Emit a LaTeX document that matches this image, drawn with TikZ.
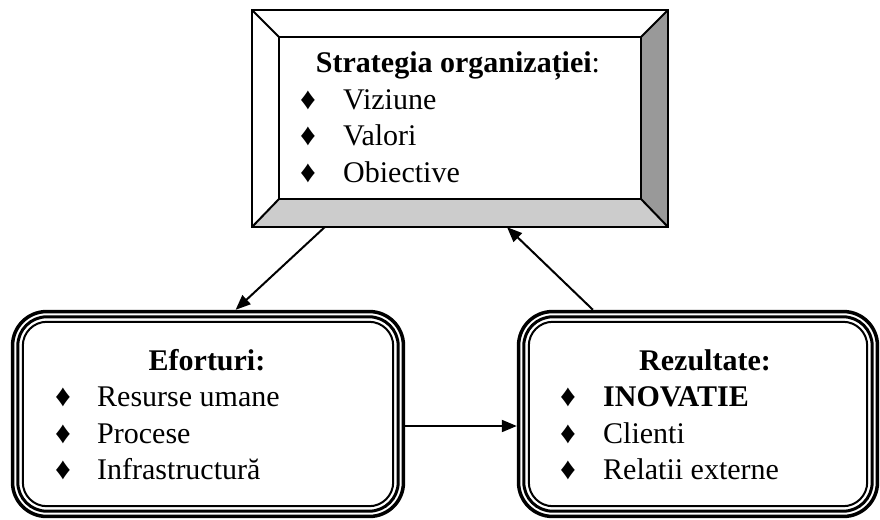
\documentclass[tikz,border=0pt]{standalone}
\usepackage{fontspec}
\setmainfont{Liberation Serif}
\usetikzlibrary{arrows.meta,calc}
\definecolor{bevdark}{HTML}{999999}
\definecolor{bevlight}{HTML}{CCCCCC}
\begin{document}
\begin{tikzpicture}[x=1pt,y=-1pt,
  txt/.style={font=\fontsize{30}{30}\selectfont, inner sep=0pt, anchor=base west},
  ttl/.style={font=\fontsize{30}{30}\selectfont, inner sep=0pt, anchor=base},
  bul/.style={font=\fontsize{31}{30}\selectfont, inner sep=0pt, anchor=base},
  boxarea/.style={draw=none, inner sep=0pt},
  conn/.style={line width=2pt, -{Triangle[length=15pt,width=12pt]}},
  bevline/.style={line width=2pt, line join=miter}
]
\useasboundingbox (0,0) rectangle (880,519);

% ---- top bevelled box ----
\node[boxarea, minimum width=416pt, minimum height=217pt] (top) at (460,118.5) {};
\coordinate (onw) at (top.north west);
\coordinate (one) at (top.north east);
\coordinate (ose) at (top.south east);
\coordinate (osw) at (top.south west);
\coordinate (inw) at ($(onw)+(27,27)$);
\coordinate (ine) at ($(one)+(-27,27)$);
\coordinate (ise) at ($(ose)+(-27,-28)$);
\coordinate (isw) at ($(osw)+(27,-28)$);
\fill[bevdark] (one) -- (ose) -- (ise) -- (ine) -- cycle;
\fill[bevlight] (osw) -- (ose) -- (ise) -- (isw) -- cycle;
\draw[bevline] (onw) rectangle (ose);
\draw[bevline] (inw) rectangle (ise);
\draw[bevline] (onw) -- (inw) (one) -- (ine) (ose) -- (ise) (osw) -- (isw);

\node[ttl] (t0) at (458,72) {\textbf{Strategia organizației}:};
\node[bul] (tb1) at (308,109) {♦};
\node[txt] (t1) at (343,109) {Viziune};
\node[bul] (tb2) at (308,145.5) {♦};
\node[txt] (t2) at (343,145.5) {Valori};
\node[bul] (tb3) at (308,182) {♦};
\node[txt] (t3) at (343,182) {Obiective};

% ---- bottom boxes with triple rounded border ----
\node[boxarea, minimum width=394pt, minimum height=208pt] (lb) at (208,414) {};
\node[boxarea, minimum width=362pt, minimum height=208pt] (rb) at (698,414) {};
\foreach \n in {lb,rb}{
  \draw[line width=3.5pt, rounded corners=34pt]
    ([xshift=1.75pt,yshift=-1.75pt]\n.north west) rectangle ([xshift=-1.75pt,yshift=1.75pt]\n.south east);
  \draw[line width=3pt, rounded corners=29pt]
    ([xshift=7pt,yshift=-7pt]\n.north west) rectangle ([xshift=-7pt,yshift=7pt]\n.south east);
  \draw[line width=2pt, rounded corners=24pt]
    ([xshift=12pt,yshift=-12pt]\n.north west) rectangle ([xshift=-12pt,yshift=12pt]\n.south east);
}

\node[ttl] (l0) at (207,370) {\textbf{Eforturi:}};
\node[bul] (lb1) at (63,406.5) {♦};
\node[txt] (l1) at (97,406.5) {Resurse umane};
\node[bul] (lb2) at (63,443) {♦};
\node[txt] (l2) at (97,443) {Procese};
\node[bul] (lb3) at (63,479) {♦};
\node[txt] (l3) at (97,479) {Infrastructură};

\node[ttl] (r0) at (705,370) {\textbf{Rezultate:}};
\node[bul] (rb1) at (568,406.5) {♦};
\node[txt] (r1) at (603,406.5) {\textbf{INOVATIE}};
\node[bul] (rb2) at (568,443) {♦};
\node[txt] (r2) at (603,443) {Clienti};
\node[bul] (rb3) at (568,479) {♦};
\node[txt] (r3) at (603,479) {Relatii externe};

% ---- connectors ----
\draw[conn] ($(top.south west)!0.175!(top.south east)$) -- ($(lb.north west)!0.57!(lb.north east)$);
\draw[conn] ($(rb.north west)!0.21!(rb.north east)$) -- ($(top.south west)!0.613!(top.south east)$);
\draw[conn] ([yshift=-12pt]lb.east) -- ([yshift=-12pt]rb.west);
\end{tikzpicture}
\end{document}
